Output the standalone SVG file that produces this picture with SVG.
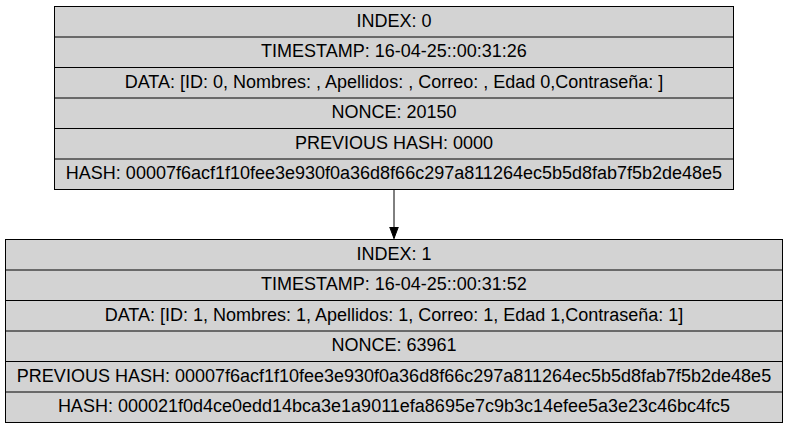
<svg xmlns="http://www.w3.org/2000/svg" width="788" height="429" viewBox="0 0 788 429">
<defs>
<style>
.box{fill:#d3d3d3;stroke:#000;stroke-width:1}
.sep{stroke:#000;stroke-width:1}
text{font-family:"Liberation Sans",Arial,sans-serif;font-size:18px;text-anchor:middle;fill:#000}
.edge{stroke:#000;stroke-width:1;fill:none}
</style>
<marker id="arr" markerWidth="12" markerHeight="10" refX="12" refY="5" orient="auto" markerUnits="userSpaceOnUse" viewBox="0 0 12 10">
<polygon points="0,0.5 12,5 0,9.5" fill="#000" stroke="#000"/>
</marker>
</defs>
<g id="node0">
<rect class="box" x="54.5" y="6.5" width="679" height="183"/>
<line class="sep" x1="54.5" y1="37" x2="733.5" y2="37"/>
<line class="sep" x1="54.5" y1="67.5" x2="733.5" y2="67.5"/>
<line class="sep" x1="54.5" y1="98" x2="733.5" y2="98"/>
<line class="sep" x1="54.5" y1="128.5" x2="733.5" y2="128.5"/>
<line class="sep" x1="54.5" y1="159" x2="733.5" y2="159"/>
<text x="394" y="26.5">INDEX: 0</text>
<text x="394" y="57">TIMESTAMP: 16-04-25::00:31:26</text>
<text x="394" y="87.5">DATA: [ID: 0, Nombres: , Apellidos: , Correo: , Edad 0,Contraseña: ]</text>
<text x="394" y="118">NONCE: 20150</text>
<text x="394" y="148.5">PREVIOUS HASH: 0000</text>
<text x="394" y="179">HASH: 00007f6acf1f10fee3e930f0a36d8f66c297a811264ec5b5d8fab7f5b2de48e5</text>
</g>
<g id="node1">
<rect class="box" x="5.5" y="239.5" width="777" height="183"/>
<line class="sep" x1="5.5" y1="270" x2="782.5" y2="270"/>
<line class="sep" x1="5.5" y1="300.5" x2="782.5" y2="300.5"/>
<line class="sep" x1="5.5" y1="331" x2="782.5" y2="331"/>
<line class="sep" x1="5.5" y1="361.5" x2="782.5" y2="361.5"/>
<line class="sep" x1="5.5" y1="392" x2="782.5" y2="392"/>
<text x="394" y="259.5">INDEX: 1</text>
<text x="394" y="290">TIMESTAMP: 16-04-25::00:31:52</text>
<text x="394" y="320.5">DATA: [ID: 1, Nombres: 1, Apellidos: 1, Correo: 1, Edad 1,Contraseña: 1]</text>
<text x="394" y="351">NONCE: 63961</text>
<text x="394" y="381.5">PREVIOUS HASH: 00007f6acf1f10fee3e930f0a36d8f66c297a811264ec5b5d8fab7f5b2de48e5</text>
<text x="394" y="412">HASH: 000021f0d4ce0edd14bca3e1a9011efa8695e7c9b3c14efee5a3e23c46bc4fc5</text>
</g>
<g id="edges">
<line class="edge" x1="394" y1="189.5" x2="394" y2="238.5" marker-end="url(#arr)"/>
</g>
</svg>
